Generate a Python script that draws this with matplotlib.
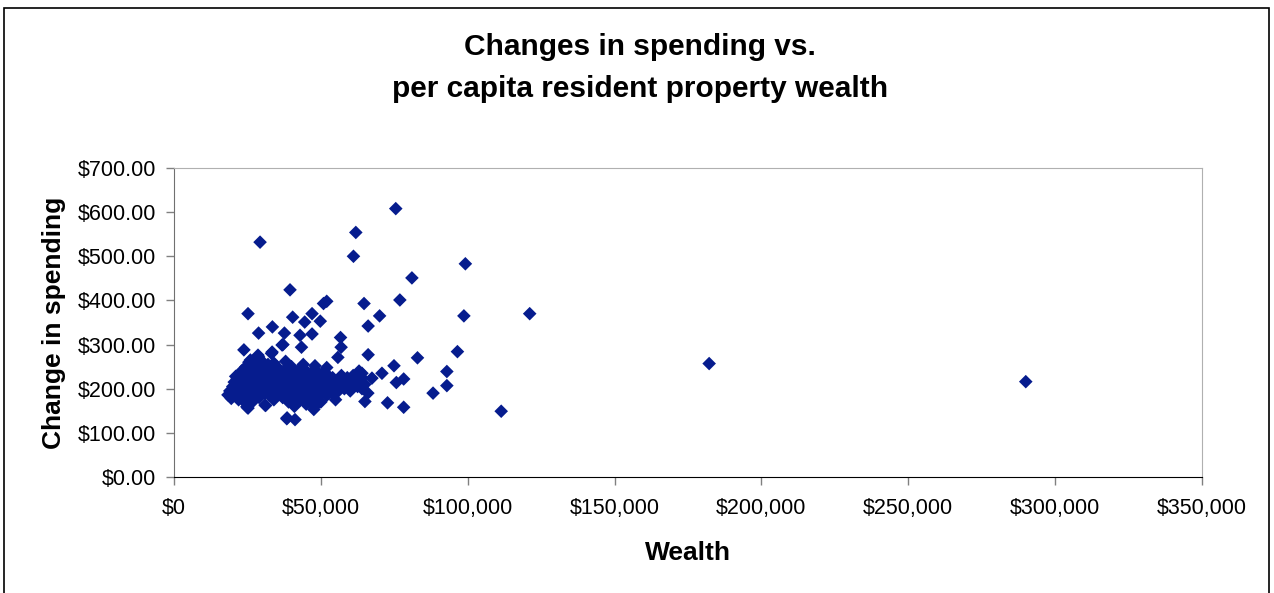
import matplotlib.pyplot as plt
from matplotlib.patches import Rectangle
from matplotlib.ticker import FuncFormatter, MultipleLocator

plt.rcParams['font.family'] = ['Liberation Sans', 'DejaVu Sans']

# wealth in $ thousands, spending change in $
# scattered points outside the main cluster
outer_wealth = [75.5, 61.9, 61.1, 29.3, 99.2, 81.0, 39.5, 76.9, 52.0, 50.9,
                64.7, 121.1, 25.2, 98.7, 70.0, 40.4, 47.0, 49.8, 44.5, 66.1,
                33.5, 28.8, 37.6, 42.9, 47.0, 56.7, 56.9, 37.1, 23.8, 43.4,
                33.2, 28.8, 66.1, 55.8, 82.9, 96.5, 182.2, 74.9, 290.0, 70.8,
                92.9, 75.7, 78.2, 92.9, 88.2, 72.7, 78.2, 65.0, 111.4, 38.4,
                41.2, 47.6, 31.2, 25.2, 28.6, 33.4, 36.8, 64.0, 67.4, 18.4,
                24.8, 31.0, 38.5]
outer_spending = [608, 554, 500, 532, 483, 451, 424, 401, 398, 393,
                  393, 370, 370, 365, 365, 362, 370, 353, 351, 342,
                  340, 326, 326, 321, 324, 316, 294, 300, 288, 294,
                  280, 272, 277, 271, 270, 284, 257, 252, 216, 235,
                  239, 214, 222, 207, 190, 168, 158, 171, 149, 132,
                  130, 153, 162, 156, 276, 283, 299, 235, 224, 186,
                  159, 163, 134]

# dense cluster of districts
cluster_wealth = [18.5, 19, 19.5, 20, 20, 20.5, 21, 21, 21.5, 22,
                  22, 22, 22.5, 23, 23, 23, 23.5, 24, 24, 24,
                  24.5, 24.5, 25, 25, 25.5, 25.5, 26, 26, 26.5, 27,
                  27, 27, 27.5, 28, 28, 28.5, 29, 29, 29.5, 30,
                  30, 30.5, 31, 31, 31.5, 32, 32, 32.5, 33, 33,
                  33.5, 34, 34, 34.5, 35, 35, 35.5, 36, 36, 36.5,
                  37, 37, 37.5, 38, 38, 38.5, 39, 39, 39.5, 40,
                  40, 40.5, 41, 41, 41.5, 42, 42, 42.5, 43, 43,
                  43.5, 44, 44, 44.5, 45, 45, 45.5, 46, 46, 46.5,
                  47, 47, 47.5, 48, 48, 48.5, 49, 49, 49.5, 50,
                  50, 50.5, 51, 51, 52, 52, 52.5, 53, 53.5, 54,
                  54, 55, 55, 56, 56, 57, 57.5, 58, 59, 60,
                  60, 61, 62, 62.5, 63, 64, 64, 65, 66, 26,
                  30, 34, 38, 44, 48, 52, 21, 23, 25, 27,
                  29, 31, 33, 35, 37, 39, 41, 43, 45, 47]
cluster_spending = [186, 195, 178, 205, 190, 215, 183, 200, 222, 175,
                    193, 210, 230, 186, 200, 240, 215, 170, 192, 225,
                    205, 250, 180, 235, 198, 260, 215, 185, 245, 172,
                    205, 228, 190, 240, 212, 258, 195, 180, 225, 205,
                    245, 215, 190, 235, 200, 225, 255, 185, 210, 240,
                    195, 230, 175, 215, 200, 250, 222, 190, 240, 210,
                    230, 180, 200, 220, 245, 190, 210, 170, 232, 200,
                    250, 185, 220, 160, 205, 235, 190, 215, 175, 245,
                    200, 225, 185, 210, 240, 165, 200, 220, 190, 235,
                    210, 175, 228, 198, 160, 240, 215, 185, 225, 205,
                    170, 235, 195, 220, 210, 185, 230, 200, 215, 190,
                    225, 205, 175, 220, 195, 230, 210, 200, 225, 210,
                    195, 230, 215, 205, 240, 225, 200, 210, 190, 265,
                    262, 258, 262, 255, 252, 248, 228, 218, 208, 222,
                    218, 208, 228, 212, 205, 222, 212, 228, 215, 220]

wealth = [w * 1000 for w in outer_wealth + cluster_wealth]
spending = outer_spending + cluster_spending

fig = plt.figure(figsize=(12.74, 5.93), dpi=100)
ax = fig.add_axes([174 / 1274, 116 / 593, 1028 / 1274, 309 / 593])

ax.scatter(wealth, spending, marker='D', s=48, color='#061C8E',
           edgecolors='none', zorder=3)

ax.set_xlim(0, 350000)
ax.set_ylim(0, 700)
ax.xaxis.set_major_locator(MultipleLocator(50000))
ax.yaxis.set_major_locator(MultipleLocator(100))
ax.xaxis.set_major_formatter(FuncFormatter(lambda v, p: '${:,.0f}'.format(v)))
ax.yaxis.set_major_formatter(FuncFormatter(lambda v, p: '${:,.2f}'.format(v)))
ax.tick_params(axis='both', direction='out', length=6, width=1,
               color='#808080', labelsize=15.5, labelcolor='black')
ax.tick_params(axis='y', pad=7)
ax.tick_params(axis='x', pad=9)

ax.spines['left'].set_color('#707070')
ax.spines['bottom'].set_color('black')
ax.spines['top'].set_color('#B0B0B0')
ax.spines['right'].set_color('#B0B0B0')

ax.set_xlabel('Wealth', fontsize=19, fontweight='bold', labelpad=16)
ax.set_ylabel('Change in spending', fontsize=19, fontweight='bold', labelpad=8)

fig.text(640 / 1274, 1 - 47 / 593, 'Changes in spending vs.', ha='center',
         va='center', fontsize=21.5, fontweight='bold')
fig.text(640 / 1274, 1 - 89 / 593, 'per capita resident property wealth',
         ha='center', va='center', fontsize=21.5, fontweight='bold')

fig.patches.append(Rectangle((4 / 1274, -0.02), 1265 / 1274, 1.02 - 8 / 593,
                             transform=fig.transFigure, fill=False,
                             edgecolor='black', linewidth=1.2))

fig.savefig('out.png', dpi=100)
